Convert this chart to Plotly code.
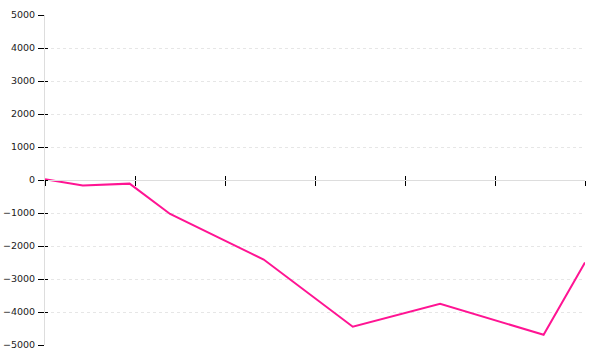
import plotly.graph_objects as go

x_pos = [0, 0.42, 0.94, 1.39, 2.43, 3.42, 4.39, 5.54, 6.0]
values = [20, -170, -110, -1030, -2410, -4445, -3750, -4690, -2500]
y_ticks = [-5000, -4000, -3000, -2000, -1000, 0, 1000, 2000, 3000, 4000, 5000]
x_ticks = [0, 1, 2, 3, 4, 5, 6]

fig = go.Figure()
fig.add_trace(go.Scatter(x=x_pos, y=values, mode="lines",
                         line=dict(color="#ff1493", width=2), hoverinfo="skip"))
# empty trace for overlay axes
fig.add_trace(go.Scatter(x=[None], y=[None], xaxis="x2", yaxis="y2", mode="lines",
                         hoverinfo="skip"))

fig.update_layout(
    width=600, height=360,
    margin=dict(l=45, r=15, t=15, b=15),
    paper_bgcolor="white", plot_bgcolor="white",
    showlegend=False,
    font=dict(family="DejaVu Sans", size=9.5, color="#222222"),
    yaxis=dict(range=[-5000, 5000], tickvals=y_ticks, automargin=False,
               tickformat="d", showgrid=True, gridcolor="#e6e6e6", griddash="dot",
               gridwidth=1, showline=True, linecolor="#dddddd", linewidth=1,
               ticks="outside", ticklen=6, tickcolor="#000000", tickwidth=1,
               ticklabelstandoff=1, zeroline=False, fixedrange=True),
    yaxis2=dict(range=[-5000, 5000], tickvals=y_ticks, overlaying="y", side="left",
                automargin=False, showgrid=False, showline=False, ticks="inside", ticklen=3,
                tickcolor="#000000", showticklabels=False, zeroline=False),
    xaxis=dict(range=[0, 6], tickvals=x_ticks, showticklabels=False, showgrid=False,
               automargin=False, zeroline=False, showline=True, linecolor="#dddddd", linewidth=1,
               ticks="outside", ticklen=5, tickcolor="#000000", tickwidth=1,
               anchor="free", position=0.5, side="bottom"),
    xaxis2=dict(range=[0, 6], tickvals=x_ticks, overlaying="x", showticklabels=False,
                automargin=False, showgrid=False, zeroline=False, showline=False,
                ticks="inside", ticklen=4, tickcolor="#000000", tickwidth=1,
                anchor="free", position=0.5, side="bottom"),
)

fig.write_html("out.html")
